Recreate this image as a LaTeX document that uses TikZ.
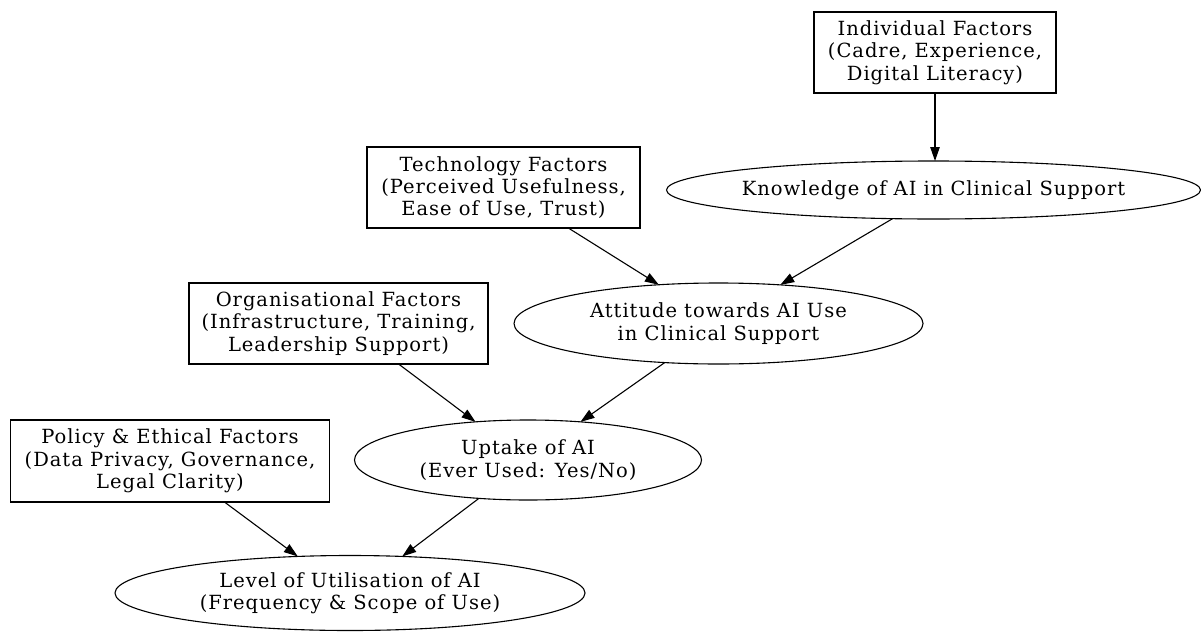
\documentclass[tikz,border=0pt]{standalone}
\usepackage{fontspec}
\setmainfont[LetterSpace=5]{DejaVu Serif}
\usetikzlibrary{shapes.geometric,arrows.meta}
\begin{document}
\begin{tikzpicture}[x=1pt,y=-1pt,
  every node/.style={font=\fontsize{19.5}{22.3}\selectfont, align=center, inner sep=0pt, outer sep=0pt, draw, line width=1.1pt},
  factor/.style={rectangle},
  outcome/.style={ellipse, inner xsep=-20pt, inner ysep=-5pt},
  link/.style={line width=1.1pt, -{Triangle[length=14pt,width=9.5pt]}}]
\useasboundingbox (0,0) rectangle (1201,634);
\node[factor, minimum width=242pt, minimum height=81pt] (ind) at (935,52.5) {Individual Factors\\(Cadre, Experience,\\Digital Literacy)};
\node[outcome, minimum width=534pt, minimum height=58pt] (know) at (933.5,190) {Knowledge of AI in Clinical Support};
\node[factor, minimum width=273pt, minimum height=81pt] (tech) at (503.5,187.5) {Technology Factors\\(Perceived Usefulness,\\Ease of Use, Trust)};
\node[outcome, minimum width=409pt, minimum height=81pt] (att) at (718.5,323.5) {Attitude towards AI Use\\in Clinical Support};
\node[factor, minimum width=299pt, minimum height=81pt] (org) at (338.5,323.5) {Organisational Factors\\(Infrastructure, Training,\\Leadership Support)};
\node[outcome, minimum width=347pt, minimum height=80pt] (upt) at (528,460) {Uptake of AI\\(Ever Used: Yes/No)};
\node[factor, minimum width=319pt, minimum height=82pt] (pol) at (170,461) {Policy \& Ethical Factors\\(Data Privacy, Governance,\\Legal Clarity)};
\node[outcome, minimum width=470pt, minimum height=75pt] (lev) at (350,593) {Level of Utilisation of AI\\(Frequency \& Scope of Use)};
\draw[link] (ind.south) -- (ind.south |- know.north);
\draw[link] (tech.-32.5) -- (att.147.5);
\draw[link] (know.215.3) -- (att.32.5);
\draw[link] (org.-34.2) -- (upt.144);
\draw[link] (att.216.1) -- (upt.36);
\draw[link] (pol.-37.7) -- (lev.145.8);
\draw[link] (upt.218.1) -- (lev.35.4);
\end{tikzpicture}
\end{document}
